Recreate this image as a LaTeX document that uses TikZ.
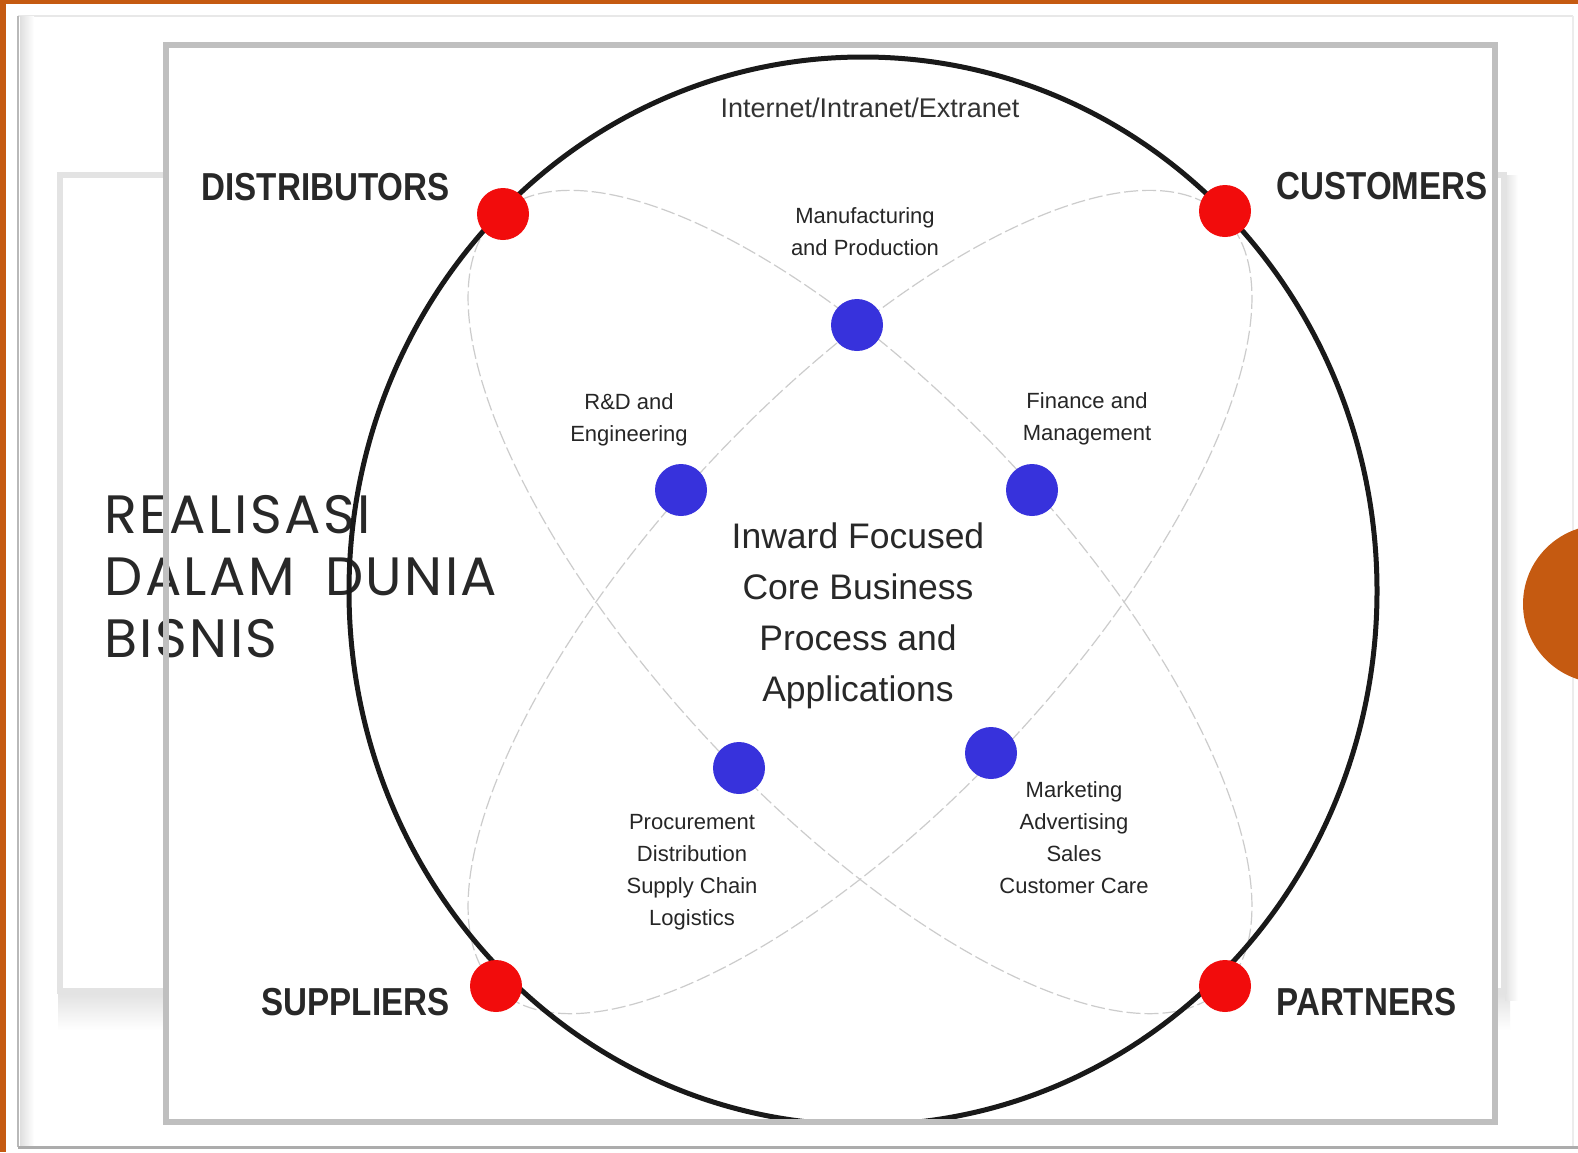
\documentclass[tikz,border=0pt]{standalone}
\usepackage{fontspec}
\setmainfont{Liberation Sans}
\newfontfamily\capfont[FakeStretch=0.85]{Liberation Sans}
\newfontfamily\titfont[LetterSpace=4.5,WordSpace=1.8]{Poppins}
\definecolor{orng}{RGB}{197,90,17}
\definecolor{reddotc}{RGB}{242,12,12}
\definecolor{bluedotc}{RGB}{55,50,220}
\definecolor{txt}{RGB}{40,40,40}
\begin{document}
\begin{tikzpicture}[x=0.5pt,y=-0.5pt,
  rdot/.style={circle, fill=reddotc, minimum size=26pt, inner sep=0pt},
  bdot/.style={circle, fill=bluedotc, minimum size=26pt, inner sep=0pt},
  corner/.style={font=\capfont\bfseries\fontsize{19.5}{22}\selectfont, text=txt, inner sep=0pt},
  small/.style={font=\fontsize{11}{16}\selectfont, text=black!85, align=center, inner sep=0pt},
  core/.style={font=\fontsize{17.75}{25.5}\selectfont, text=txt, align=center, inner sep=0pt},
  petal/.style={draw=gray!40, line width=0.6pt, dash pattern=on 7pt off 2pt}
]
\useasboundingbox (0,0) rectangle (1578,1152);
\begin{scope}
\clip (0,0) rectangle (1578,1152);
\fill[white] (0,0) rectangle (1578,1152);
% outer slide frame
\draw[gray!18, line width=1pt] (18,16) -- (1573,16);
\draw[gray!15, line width=1pt] (1573,16) -- (1573,1146);
\shade[left color=gray!25, right color=white] (20,16) rectangle (34,1146);
\draw[gray!55, line width=1.2pt] (18,16) -- (18,1147);
\draw[gray!65, line width=1.5pt] (18,1147) -- (1578,1147);
% orange border
\fill[orng] (0,0) rectangle (6,1152);
\fill[orng] (0,0) rectangle (1578,4);
% box behind picture
\shade[top color=gray!22, bottom color=white] (58,994) rectangle (1510,1030);
\shade[left color=gray!22, right color=white] (1505,175) rectangle (1518,1000);
\draw[gray!22, line width=3pt] (60,175) rectangle (1504,991);
% picture area
\fill[white] (166,45) rectangle (1495,1122);
% title
\node[font=\titfont\fontsize{27}{31}\selectfont, text=txt, align=left, anchor=west, inner sep=0pt]
  (title) at (104,577) {REALISASI\\DALAM DUNIA\\BISNIS};
\begin{scope}
\clip (166,45) rectangle (1495,1122);
\draw[petal, rotate around={-46.9:(860,602)}] (860,602) ellipse [x radius=265pt, y radius=102.5pt];
\draw[petal, rotate around={46.9:(860,602)}] (860,602) ellipse [x radius=265pt, y radius=102.5pt];
\draw[black!90, line width=2.5pt] (863,591) ellipse [x radius=257pt, y radius=267pt];
\end{scope}
\draw[gray!50, line width=3pt] (166,45) rectangle (1495,1122);
% dots
\node[rdot] (dist) at (503,214) {};
\node[rdot] (cust) at (1225,211) {};
\node[rdot] (supp) at (496,986) {};
\node[rdot] (part) at (1225,986) {};
\node[bdot] (manu) at (857,325) {};
\node[bdot] (rnd) at (681,490) {};
\node[bdot] (fin) at (1032,490) {};
\node[bdot] (proc) at (739,768) {};
\node[bdot] (mark) at (991,753) {};
% labels
\node[corner, anchor=east] (ldist) at (450,187) {DISTRIBUTORS};
\node[corner, anchor=west] (lcust) at (1276,186) {CUSTOMERS};
\node[corner, anchor=east] (lsupp) at (450,1002) {SUPPLIERS};
\node[corner, anchor=west] (lpart) at (1276,1002) {PARTNERS};
\node[font=\fontsize{13.5}{16}\selectfont, text=black!80, inner sep=0pt] (net) at (870,108) {Internet/Intranet/Extranet};
\node[small] (lmanu) at (865,232) {Manufacturing\\and Production};
\node[small] (lrnd) at (629,420) {R\&D and\\Engineering};
\node[small] (lfin) at (1087,419) {Finance and\\Management};
\node[small] (lproc) at (692,872) {Procurement\\Distribution\\Supply Chain\\Logistics};
\node[small] (lmark) at (1074,838) {Marketing\\Advertising\\Sales\\Customer Care};
\node[core] (lcore) at (858,616) {Inward Focused\\Core Business\\Process and\\Applications};
% orange circle
\fill[orng] (1602,604) circle [radius=39.5pt];
\end{scope}
\end{tikzpicture}
\end{document}
